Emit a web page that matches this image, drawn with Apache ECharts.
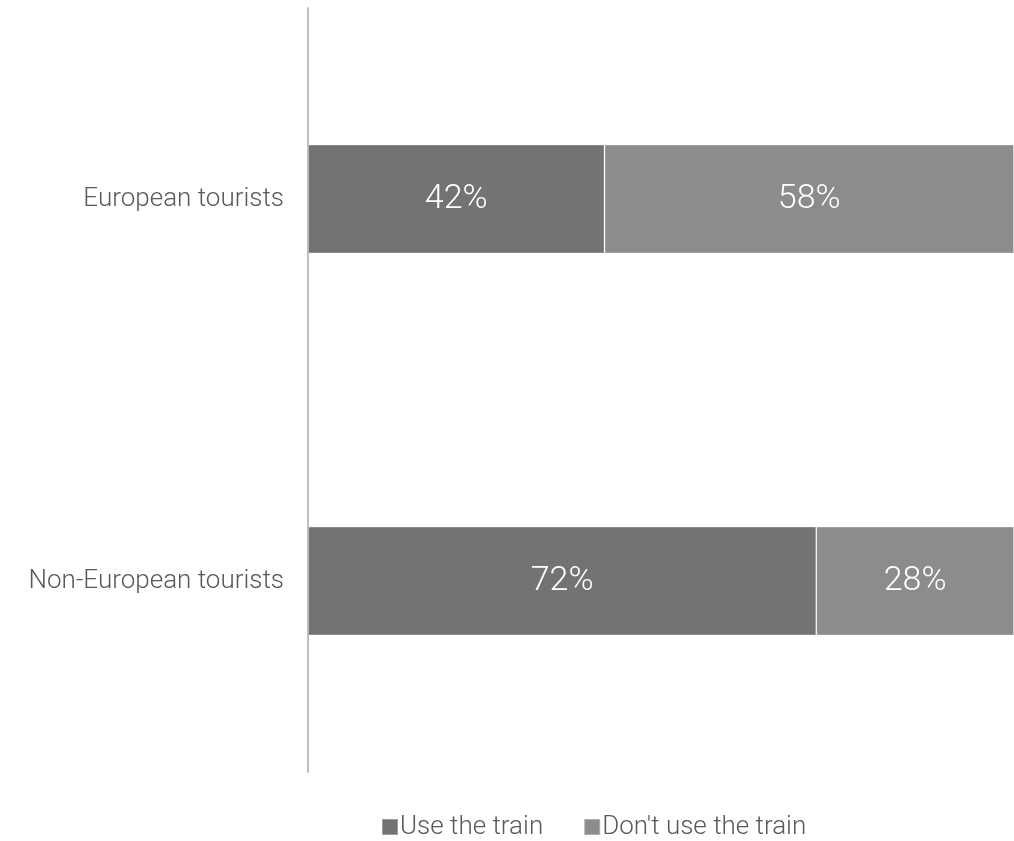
<!DOCTYPE html>
<html>
<head>
<meta charset="utf-8">
<script src="https://cdn.jsdelivr.net/npm/echarts@6/dist/echarts.min.js"></script>
<style>
    html, body { margin: 0; padding: 0; background: #fff; }
    #chart { width: 1014px; height: 841px; }
</style>
</head>
<body>
<div id="chart"></div>
<script>
// 数据
var categories = ['European tourists', 'Non-European tourists'];
var seriesNames = ['Use the train', "Don't use the train"];
var useTrain = [42, 72];
var noTrain = [58, 28];

var myChart = echarts.init(document.getElementById('chart'));
var labelStyle = {
    show: true,
    position: 'inside',
    color: '#fff',
    fontSize: 34,
    fontWeight: 300,
    fontFamily: 'Roboto',
    formatter: '{c}%'
};
var option = {
    animation: false,
    textStyle: { fontFamily: 'Roboto' },
    grid: {
        top: 8,
        left: 308,
        right: 0,
        bottom: 69
    },
    legend: {
        data: seriesNames,
        left: 381,
        top: 814,
        padding: 0,
        itemWidth: 16,
        itemHeight: 16,
        itemGap: 40,
        icon: 'rect',
        textStyle: {
            color: '#595959',
            fontSize: 26,
            fontWeight: 300,
            padding: [0, 0, 0, -3]
        }
    },
    xAxis: {
        type: 'value',
        min: 0,
        max: 100,
        show: false
    },
    yAxis: {
        type: 'category',
        data: categories,
        inverse: true,
        axisLine: {
            lineStyle: { color: '#bfbfbf', width: 2 }
        },
        axisTick: { show: false },
        axisLabel: {
            color: '#595959',
            fontSize: 26,
            fontWeight: 300,
            margin: 24
        }
    },
    series: [
        {
            name: seriesNames[0],
            type: 'bar',
            stack: 'total',
            barWidth: '28.5%',
            itemStyle: {
                color: '#737373',
                borderColor: 'rgba(255,255,255,0.3)',
                borderWidth: 1
            },
            label: labelStyle,
            data: useTrain
        },
        {
            name: seriesNames[1],
            type: 'bar',
            stack: 'total',
            barWidth: '28.5%',
            itemStyle: {
                color: '#8c8c8c',
                borderColor: 'rgba(255,255,255,0.3)',
                borderWidth: 1
            },
            label: labelStyle,
            data: noTrain
        }
    ]
};
myChart.setOption(option);
</script>
</body>
</html>
